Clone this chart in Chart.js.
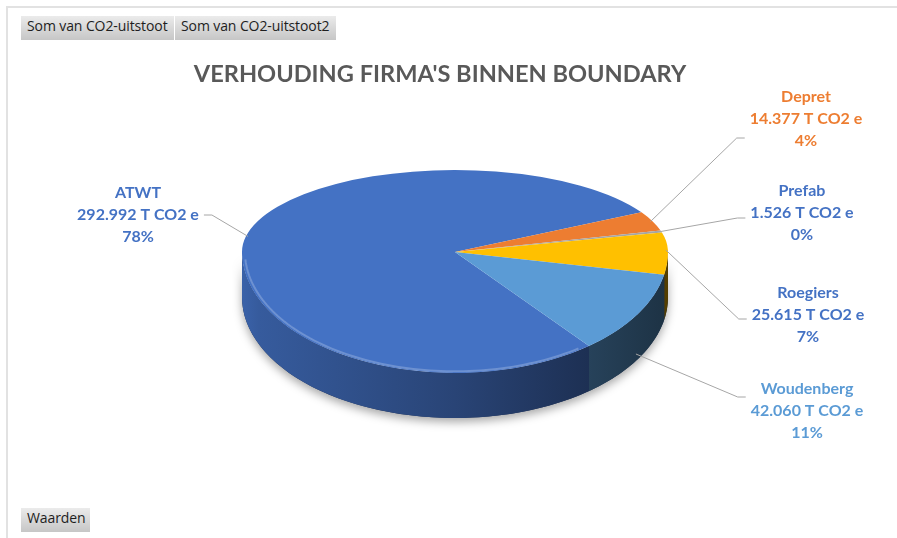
<!DOCTYPE html>
<html><head><meta charset="utf-8">
<script src="https://cdn.jsdelivr.net/npm/chart.js@4"></script>
<style>
html,body{margin:0;padding:0;background:#fff;}
#wrap{position:relative;width:897px;height:538px;overflow:hidden;background:#fff;}
#frame{position:absolute;left:6px;top:6px;width:900px;height:540px;border-top:2px solid #e2e2e2;border-left:2px solid #e2e2e2;}
canvas{position:absolute;left:0;top:0;}
.btn{position:absolute;height:24px;line-height:24px;font:14px "Open Sans",sans-serif;color:#1e1e1e;background:linear-gradient(#ebebeb,#c6c6c6);padding:0 0 0 6px;box-sizing:border-box;white-space:nowrap;letter-spacing:-0.1px;}
</style></head>
<body><div id="wrap"><div id="frame"></div><canvas id="c" width="897" height="538"></canvas>
<div class="btn" style="left:21px;top:16px;width:153px">Som van CO2-uitstoot</div>
<div class="btn" style="left:175px;top:16px;width:161px">Som van CO2-uitstoot2</div>
<div class="btn" style="left:21px;top:508px;width:69px">Waarden</div>
</div>
<script>
// ---- data ----
const categories = ['ATWT', 'Depret', 'Prefab', 'Roegiers', 'Woudenberg'];
const emissions = [292992, 14377, 1526, 25615, 42060];
const unitLabel = 'T CO2 e';
const chartTitle = "VERHOUDING FIRMA'S BINNEN BOUNDARY";

// ---- styles / layout ----
const sliceColors = ['#4472C4', '#ED7D31', '#A5A5A5', '#FFC000', '#5B9BD5'];
const labelColors = ['#4472C4', '#ED7D31', '#4472C4', '#4472C4', '#5B9BD5'];
const labelLayout = [
  {x: 138, y: 215, dy: 0},
  {x: 806, y: 119, dy: 19},
  {x: 802, y: 213, dy: 5},
  {x: 808, y: 315, dy: 4},
  {x: 807, y: 411, dy: -14}
];
const PIE = {cx: 455, cy: 252, r: 213, topRy: 82, frontRy: 121, depth: 45};
const LABEL_FONT = 'bold 16px Lato';
const LINE_H = 22;

function fmt(n) { return String(n).replace(/\B(?=(\d{3})+(?!\d))/g, '.'); }
function shade(hex, f) {
  const n = parseInt(hex.slice(1), 16);
  const r = (n >> 16) & 255, g = (n >> 8) & 255, b = n & 255;
  return 'rgb(' + Math.round(r * f) + ',' + Math.round(g * f) + ',' + Math.round(b * f) + ')';
}
function pt(R, a, dz) {
  const s = Math.sin(a);
  return [PIE.cx + R * Math.cos(a), PIE.cy + (s >= 0 ? PIE.frontRy : PIE.topRy) / PIE.r * R * s + (dz || 0)];
}
function sidePath(ctx, R, lo, hi) {
  const N = 60;
  ctx.beginPath();
  for (let i = 0; i <= N; i++) { const p = pt(R, lo + (hi - lo) * i / N, 0); i ? ctx.lineTo(p[0], p[1]) : ctx.moveTo(p[0], p[1]); }
  for (let i = N; i >= 0; i--) { const p = pt(R, lo + (hi - lo) * i / N, PIE.depth); ctx.lineTo(p[0], p[1]); }
  ctx.closePath();
}

const pie3d = {
  id: 'pie3d',
  beforeDatasetsDraw(chart) {
    const ctx = chart.ctx;
    const meta = chart.getDatasetMeta(0);
    const arcs = meta.data;
    const a0 = arcs[0];
    const R = a0.outerRadius;
    // shadow under the disc
    ctx.save();
    ctx.shadowColor = 'rgba(0,0,0,0.35)';
    ctx.shadowBlur = 10;
    ctx.shadowOffsetY = 4;
    sidePath(ctx, R, 0, Math.PI);
    ctx.fillStyle = '#1c2d50';
    ctx.fill();
    ctx.restore();
    // side walls
    arcs.forEach((arc, i) => {
      const s = arc.startAngle, e = arc.endAngle;
      [-2 * Math.PI, 0, 2 * Math.PI].forEach(k => {
        const lo = Math.max(s, k), hi = Math.min(e, k + Math.PI);
        if (hi > lo) {
          const col = sliceColors[i];
          const g = ctx.createLinearGradient(PIE.cx - R, 0, PIE.cx + R, 0);
          g.addColorStop(0, shade(col, 0.86));
          g.addColorStop(0.04, shade(col, 0.8));
          g.addColorStop(0.5, shade(col, 0.6));
          g.addColorStop(1, shade(col, 0.32));
          sidePath(ctx, R, lo, hi);
          ctx.fillStyle = g;
          ctx.fill();
        }
      });
    });
    // top face: far half and near half with their own foreshortening
    const halves = [
      {y0: 0, y1: PIE.cy, k: PIE.topRy / R},
      {y0: PIE.cy, y1: chart.height, k: PIE.frontRy / R}
    ];
    halves.forEach(h => {
      ctx.save();
      ctx.beginPath();
      ctx.rect(0, h.y0, chart.width, h.y1 - h.y0);
      ctx.clip();
      ctx.translate(PIE.cx, PIE.cy);
      ctx.scale(1, h.k);
      ctx.translate(-a0.x, -a0.y);
      meta.controller.draw();
      ctx.restore();
    });
    // bevel highlight along the front rim
    ctx.save();
    ctx.beginPath();
    for (let i = 0; i <= 80; i++) {
      const a = Math.PI * (0.3 + 0.68 * i / 80);
      const p = pt(R - 3, a, 0);
      i ? ctx.lineTo(p[0], p[1]) : ctx.moveTo(p[0], p[1]);
    }
    ctx.strokeStyle = 'rgba(255,255,255,0.22)';
    ctx.lineWidth = 2;
    ctx.stroke();
    ctx.restore();
    return false;
  },
  afterDraw(chart) {
    const ctx = chart.ctx;
    const meta = chart.getDatasetMeta(0);
    const total = emissions.reduce((a, b) => a + b, 0);
    ctx.save();
    ctx.font = LABEL_FONT;
    ctx.textAlign = 'center';
    ctx.textBaseline = 'middle';
    meta.data.forEach((arc, i) => {
      const L = labelLayout[i];
      const lines = [categories[i], fmt(emissions[i]) + ' ' + unitLabel, Math.round(emissions[i] / total * 100) + '%'];
      const w = Math.max(...lines.map(t => ctx.measureText(t).width));
      // leader line
      let mid = (arc.startAngle + arc.endAngle) / 2;
      mid = ((mid % (2 * Math.PI)) + 2 * Math.PI) % (2 * Math.PI);
      const front = Math.sin(mid) > 0;
      const p = pt(arc.outerRadius * 0.99, mid, front ? PIE.depth * 0.9 : 0);
      const right = L.x > PIE.cx;
      const endX = right ? L.x - w / 2 - 5 : L.x + w / 2 + 5;
      const elbowX = right ? endX - 8 : endX + 8;
      const endY = L.y + L.dy;
      ctx.beginPath();
      ctx.moveTo(p[0], p[1]);
      ctx.lineTo(elbowX, endY);
      ctx.lineTo(endX, endY);
      ctx.strokeStyle = '#a6a6a6';
      ctx.lineWidth = 1;
      ctx.stroke();
      ctx.fillStyle = labelColors[i];
      lines.forEach((t, j) => ctx.fillText(t, L.x, L.y + (j - 1) * LINE_H));
    });
    ctx.restore();
  }
};

new Chart(document.getElementById('c'), {
  type: 'pie',
  data: {
    labels: categories,
    datasets: [{
      data: emissions,
      backgroundColor: sliceColors,
      borderWidth: 0,
      clip: false
    }]
  },
  options: {
    responsive: false,
    animation: false,
    rotation: 141,
    radius: PIE.r,
    layout: {padding: {left: 0, right: 17, top: 0, bottom: 0}},
    events: [],
    plugins: {
      legend: {display: false},
      tooltip: {enabled: false},
      title: {
        display: true,
        text: chartTitle,
        color: '#595959',
        font: {family: 'Lato', size: 23.6, weight: 'bold'},
        padding: {top: 60, bottom: 10}
      }
    }
  },
  plugins: [pie3d]
});
</script>
</body></html>
